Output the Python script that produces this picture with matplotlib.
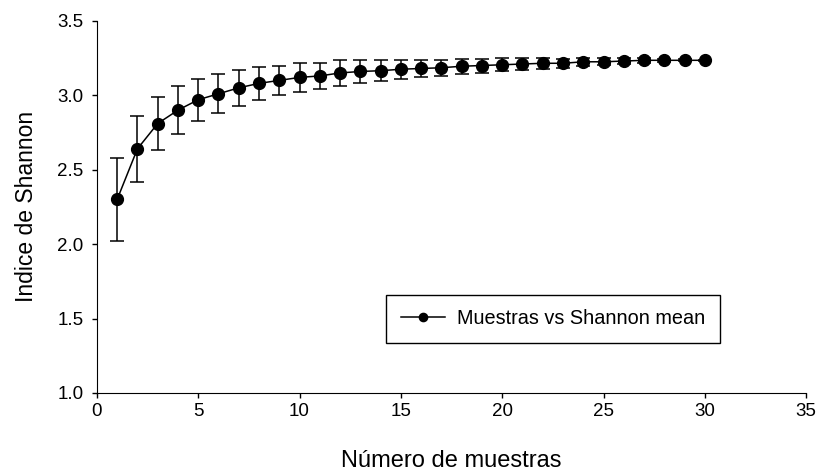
import numpy as np
import matplotlib.pyplot as plt

plt.rcParams['font.family'] = ['Liberation Sans', 'DejaVu Sans']

# mean Shannon index per sample count, with its error
muestras = np.arange(1, 31)
shannon_mean = [2.30, 2.64, 2.81, 2.90, 2.97, 3.01, 3.05, 3.08, 3.10, 3.12,
                3.13, 3.15, 3.16, 3.165, 3.175, 3.18, 3.185, 3.195, 3.20, 3.205,
                3.21, 3.215, 3.215, 3.225, 3.225, 3.23, 3.235, 3.235, 3.235, 3.235]
shannon_err = [0.28, 0.22, 0.18, 0.16, 0.14, 0.13, 0.12, 0.11, 0.10, 0.095,
               0.09, 0.085, 0.077, 0.07, 0.065, 0.06, 0.055, 0.05, 0.047, 0.043,
               0.04, 0.036, 0.032, 0.028, 0.024, 0.02, 0.016, 0.012, 0.008, 0.004]

fig = plt.figure(figsize=(8.21, 4.74), dpi=100)
ax = fig.add_axes([0.118, 0.171, 0.864, 0.785])

ax.errorbar(muestras, shannon_mean, yerr=shannon_err, fmt='none',
            ecolor='black', elinewidth=1.1, capsize=5, capthick=1.1)
ax.plot(muestras, shannon_mean, '-o', color='black', lw=1.1,
        markersize=8.5, label='Muestras vs Shannon mean')

ax.set_xlim(0, 35)
ax.set_ylim(1.0, 3.5)
ax.set_xticks(np.arange(0, 36, 5))
ax.set_yticks(np.arange(1.0, 3.51, 0.5))
ax.yaxis.set_major_formatter(plt.FormatStrFormatter('%.1f'))
ax.spines['top'].set_visible(False)
ax.spines['right'].set_visible(False)
ax.tick_params(direction='out', length=3.6, width=1, labelsize=13.5)
ax.tick_params(axis='y', pad=6)

ax.set_xlabel('Número de muestras', fontsize=17, labelpad=22)
ax.set_ylabel('Indice de Shannon', fontsize=16.5, labelpad=14)

leg = ax.legend(loc='center', bbox_to_anchor=(0.643, 0.199), fontsize=14.3,
                fancybox=False, edgecolor='black', framealpha=1,
                borderpad=0.75, handlelength=2.2, handletextpad=0.6,
                markerscale=0.7)
leg.get_frame().set_linewidth(1.0)

fig.savefig('out.png', dpi=100)
